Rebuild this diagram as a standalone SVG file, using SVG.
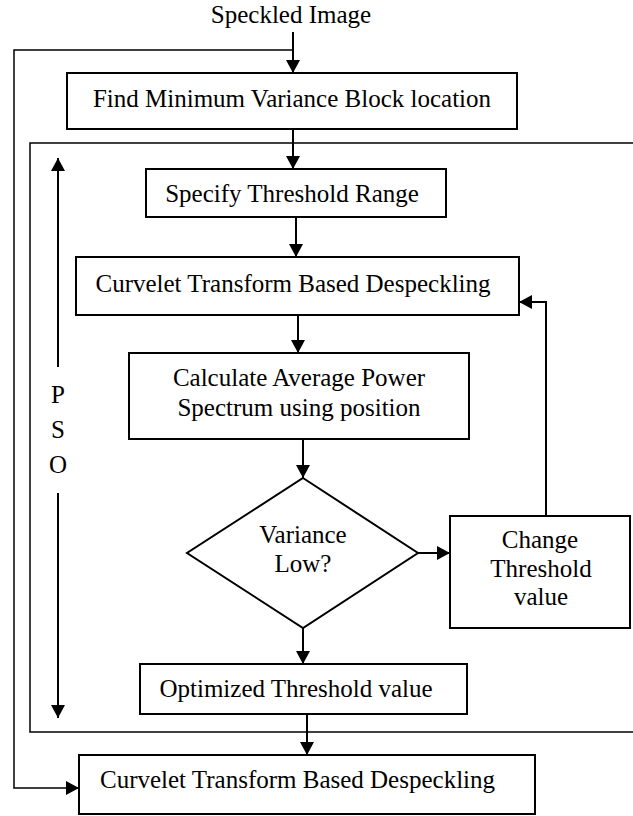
<svg xmlns="http://www.w3.org/2000/svg" width="633" height="816" viewBox="0 0 633 816">
<style>
.box{fill:#fff;stroke:#000;stroke-width:2}
.ln{fill:none;stroke:#000;stroke-width:2}
.thin{fill:none;stroke:#000;stroke-width:1.5}
text{font-family:"Liberation Serif","Times New Roman",serif;font-size:25px;fill:#000;text-anchor:middle}
</style>
<defs>
<marker id="ah" markerUnits="userSpaceOnUse" markerWidth="13" markerHeight="14" refX="13" refY="7" orient="auto" viewBox="0 0 13 14">
<path d="M0,0 L13,7 L0,14 z" fill="#000"/>
</marker>
</defs>
<rect id="pso-frame" x="30" y="143" width="610" height="589" class="thin"/>
<g id="connectors">
<line x1="293" y1="32" x2="293" y2="73" class="ln" marker-end="url(#ah)"/>
<polyline points="293,50 14,50 14,788 79,788" class="thin" marker-end="url(#ah)"/>
<line x1="293" y1="129" x2="293" y2="169" class="ln" marker-end="url(#ah)"/>
<line x1="296" y1="217" x2="296" y2="257" class="ln" marker-end="url(#ah)"/>
<line x1="298" y1="315" x2="298" y2="353" class="ln" marker-end="url(#ah)"/>
<line x1="303" y1="439" x2="303" y2="478" class="ln" marker-end="url(#ah)"/>
<line x1="303" y1="628" x2="303" y2="664" class="ln" marker-end="url(#ah)"/>
<line x1="418" y1="553" x2="450" y2="553" class="ln" marker-end="url(#ah)"/>
<polyline points="546,516 546,302 519,302" class="ln" marker-end="url(#ah)"/>
<line x1="307" y1="712" x2="307" y2="755" class="ln" marker-end="url(#ah)"/>
<line x1="58" y1="367" x2="58" y2="158" class="ln" marker-end="url(#ah)"/>
<line x1="58" y1="493" x2="58" y2="718" class="ln" marker-end="url(#ah)"/>
</g>
<text id="input" x="291" y="23">Speckled Image</text>
<g id="find">
<rect x="67" y="73" width="450" height="56" class="box"/>
<text x="292" y="107">Find Minimum Variance Block location</text>
</g>
<g id="pso-label">
<text x="58" y="403">P</text>
<text x="58" y="438">S</text>
<text x="58" y="473">O</text>
</g>
<g id="specify">
<rect x="146" y="169" width="300" height="48" class="box"/>
<text x="292" y="202">Specify Threshold Range</text>
</g>
<g id="curvelet1">
<rect x="76" y="257" width="443" height="58" class="box"/>
<text x="293" y="292">Curvelet Transform Based Despeckling</text>
</g>
<g id="calc">
<rect x="129" y="353" width="340" height="86" class="box"/>
<text x="299" y="386">Calculate Average Power</text>
<text x="299" y="416">Spectrum using position</text>
</g>
<g id="decision">
<polygon points="303,478 418,553 303,628 187,553" class="box"/>
<text x="303" y="543">Variance</text>
<text x="303" y="572">Low?</text>
</g>
<g id="change">
<rect x="450" y="516" width="180" height="112" class="box"/>
<text x="540" y="548">Change</text>
<text x="541" y="577">Threshold</text>
<text x="541" y="605">value</text>
</g>
<g id="optimized">
<rect x="140" y="664" width="327" height="50" class="box"/>
<text x="296" y="697">Optimized Threshold value</text>
</g>
<g id="curvelet2">
<rect x="79" y="755" width="456" height="59" class="box"/>
<text x="297.5" y="788">Curvelet Transform Based Despeckling</text>
</g>
</svg>
